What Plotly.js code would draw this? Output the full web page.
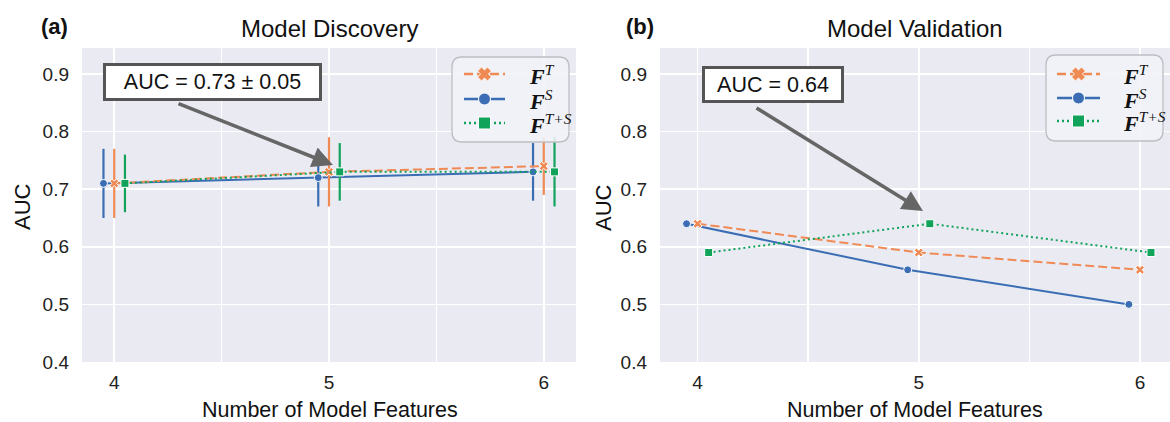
<!DOCTYPE html>
<html>
<head>
<meta charset="utf-8">
<script src="https://cdn.plot.ly/plotly-3.0.1.min.js"></script>
<style>html,body{margin:0;padding:0;background:#fff;}#chart{width:1170px;height:422px;}</style>
</head>
<body>
<div id="chart"></div>
<script>
// ---- data ----
const features = [4, 5, 6];
const seriesNames = ['<b><i>F</i></b><sup><i>T</i></sup>', '<b><i>F</i></b><sup><i>S</i></sup>', '<b><i>F</i></b><sup><i>T+S</i></sup>'];

const discFT = [0.71, 0.73, 0.74];
const discFTerr = [0.06, 0.06, 0.05];
const discFS = [0.71, 0.72, 0.73];
const discFSerr = [0.06, 0.05, 0.05];
const discFTS = [0.71, 0.73, 0.73];
const discFTSerr = [0.05, 0.05, 0.06];

const valFT = [0.64, 0.59, 0.56];
const valFS = [0.64, 0.56, 0.50];
const valFTS = [0.59, 0.64, 0.59];

const xTicks = [4, 5, 6];
const yTicks = [0.4, 0.5, 0.6, 0.7, 0.8, 0.9];

// ---- styling ----
const W = 1170, H = 422;
const px = v => v / W;
const py = v => 1 - v / H;
const colFT = '#f08a55', colFS = '#3a6db4', colFTS = '#12a35b';
const dodge = {FT: 0, FS: -0.05, FTS: 0.05};
const shift = (arr, d) => arr.map(v => v + d);
const dashFT = '9px,4px', dashFTS = '2px,3px';

function trace(name, x, y, err, color, dash, symbol, xa, ya) {
  const t = {
    type: 'scatter', mode: 'lines+markers', name: name,
    x: x, y: y, xaxis: xa, yaxis: ya, showlegend: false,
    line: {color: color, width: 2, dash: dash},
    marker: {color: color, symbol: symbol, size: 8, line: {color: '#ffffff', width: 1}},
    hoverinfo: 'x+y'
  };
  if (err) t.error_y = {type: 'data', array: err, visible: true, color: color, thickness: 2.2, width: 0};
  return t;
}

const data = [
  trace(seriesNames[1], shift(features, dodge.FS), discFS, discFSerr, colFS, 'solid', 'circle', 'x', 'y'),
  trace(seriesNames[0], shift(features, dodge.FT), discFT, discFTerr, colFT, dashFT, 'x', 'x', 'y'),
  trace(seriesNames[2], shift(features, dodge.FTS), discFTS, discFTSerr, colFTS, dashFTS, 'square', 'x', 'y'),
  trace(seriesNames[1], shift(features, dodge.FS), valFS, null, colFS, 'solid', 'circle', 'x2', 'y2'),
  trace(seriesNames[0], shift(features, dodge.FT), valFT, null, colFT, dashFT, 'x', 'x2', 'y2'),
  trace(seriesNames[2], shift(features, dodge.FTS), valFTS, null, colFTS, dashFTS, 'square', 'x2', 'y2')
];

const font = 'Liberation Sans, Arial, sans-serif';
const serif = 'Liberation Serif, Times New Roman, serif';
const bg = '#eaeaf2';

function xaxis(domain, range, anchor) {
  return {
    domain: domain, range: range, anchor: anchor,
    tickvals: xTicks, ticktext: xTicks.map(String),
    showgrid: true, gridcolor: '#ffffff', gridwidth: 1.6,
    minor: {dtick: 0.5, tick0: 0, showgrid: true, gridcolor: '#ffffff', gridwidth: 1.6},
    zeroline: false, showline: false, ticks: '',
    tickfont: {family: font, size: 19, color: '#222'}, ticklabelstandoff: 7, fixedrange: true
  };
}
function yaxis(anchor) {
  return {
    domain: [py(362), py(48)], range: [0.4, 0.945], anchor: anchor,
    tickvals: yTicks, ticktext: yTicks.map(v => v.toFixed(1)),
    showgrid: true, gridcolor: '#ffffff', gridwidth: 1.6,
    zeroline: false, showline: false, ticks: '',
    tickfont: {family: font, size: 19, color: '#222'}, ticklabelstandoff: 12, fixedrange: true
  };
}

// ---- shapes helpers (pixel -> paper) ----
function roundRect(x0, y0, x1, y1, r) {
  const X = v => px(v), Y = v => py(v);
  return 'M' + X(x0 + r) + ',' + Y(y0) +
    ' L' + X(x1 - r) + ',' + Y(y0) + ' Q' + X(x1) + ',' + Y(y0) + ' ' + X(x1) + ',' + Y(y0 + r) +
    ' L' + X(x1) + ',' + Y(y1 - r) + ' Q' + X(x1) + ',' + Y(y1) + ' ' + X(x1 - r) + ',' + Y(y1) +
    ' L' + X(x0 + r) + ',' + Y(y1) + ' Q' + X(x0) + ',' + Y(y1) + ' ' + X(x0) + ',' + Y(y1 - r) +
    ' L' + X(x0) + ',' + Y(y0 + r) + ' Q' + X(x0) + ',' + Y(y0) + ' ' + X(x0 + r) + ',' + Y(y0) + ' Z';
}
function xPath(cx, cy, r, w) {
  const pts = [[w, r], [w, w], [r, w], [r, -w], [w, -w], [w, -r], [-w, -r], [-w, -w], [-r, -w], [-r, w], [-w, w], [-w, r]];
  const c = Math.SQRT1_2;
  return pts.map((p, i) => {
    const x = (p[0] - p[1]) * c + cx, y = (p[0] + p[1]) * c + cy;
    return (i ? 'L' : 'M') + px(x) + ',' + py(y);
  }).join(' ') + ' Z';
}
function legendShapes(bx0, by0, bx1, by1, lx0, lx1, rows) {
  const s = [{type: 'path', xref: 'paper', yref: 'paper', path: roundRect(bx0, by0, bx1, by1, 10),
    fillcolor: 'rgba(241,242,247,0.88)', line: {color: '#bdbdc2', width: 1.3}, layer: 'above'}];
  const mx = (lx0 + lx1) / 2;
  const styles = [[colFT, dashFT, 'x'], [colFS, 'solid', 'circle'], [colFTS, dashFTS, 'square']];
  rows.forEach((ry, i) => {
    const [col, dash, sym] = styles[i];
    s.push({type: 'line', xref: 'paper', yref: 'paper', x0: px(lx0), x1: px(lx1), y0: py(ry), y1: py(ry),
      line: {color: col, width: 2.6, dash: dash}, layer: 'above'});
    const r = 6;
    if (sym === 'circle') s.push({type: 'circle', xref: 'paper', yref: 'paper', x0: px(mx - r), x1: px(mx + r), y0: py(ry + r), y1: py(ry - r),
      fillcolor: col, line: {color: '#ffffff', width: 1}, layer: 'above'});
    if (sym === 'square') s.push({type: 'rect', xref: 'paper', yref: 'paper', x0: px(mx - 6), x1: px(mx + 6), y0: py(ry + 6), y1: py(ry - 6),
      fillcolor: col, line: {color: '#ffffff', width: 1}, layer: 'above'});
    if (sym === 'x') s.push({type: 'path', xref: 'paper', yref: 'paper', path: xPath(mx, ry, 7, 2.8),
      fillcolor: col, line: {color: '#ffffff', width: 0.8}, layer: 'above'});
  });
  return s;
}
function legendTexts(tx, rows) {
  return rows.map((ry, i) => ({
    xref: 'paper', yref: 'paper', x: px(tx), y: py(ry + 1), xanchor: 'left', yanchor: 'middle',
    text: seriesNames[i], showarrow: false,
    font: {family: serif, size: 22, color: '#111'}
  }));
}

function boxAnn(text, cx, cy, w, h) {
  return {
    xref: 'paper', yref: 'paper', x: px(cx), y: py(cy), xanchor: 'center', yanchor: 'middle',
    text: text, showarrow: false, width: w, height: h, align: 'center', valign: 'middle',
    bgcolor: '#ffffff', bordercolor: '#555555', borderwidth: 3, borderpad: 1,
    font: {family: font, size: 21.5, color: '#111'}
  };
}
function arrowAnn(tipX, tipY, tailX, tailY) {
  return {
    xref: 'paper', yref: 'paper', x: px(tipX), y: py(tipY), text: '',
    showarrow: true, ax: tailX - tipX, ay: tailY - tipY,
    arrowhead: 2, arrowsize: 1.15, arrowwidth: 3.6, arrowcolor: '#666666', standoff: 0, startstandoff: 0
  };
}
function textAnn(text, cx, cy, size, angle, bold) {
  return {
    xref: 'paper', yref: 'paper', x: px(cx), y: py(cy), xanchor: 'center', yanchor: 'middle',
    text: bold ? '<b>' + text + '</b>' : text, showarrow: false, textangle: angle || 0,
    font: {family: font, size: size, color: '#111'}
  };
}

const rowsA = [74, 99, 123], rowsB = [74, 98, 121];

const layout = {
  width: W, height: H,
  margin: {l: 0, r: 0, t: 0, b: 0, pad: 0},
  paper_bgcolor: '#ffffff', plot_bgcolor: bg,
  showlegend: false,
  xaxis: xaxis([px(82), px(576)], [3.85, 6.15], 'y'),
  yaxis: yaxis('x'),
  xaxis2: xaxis([px(660), 1], [3.83, 6.136], 'y2'),
  yaxis2: yaxis('x2'),
  shapes: [].concat(
    legendShapes(452, 57, 569, 142, 464, 505, rowsA),
    legendShapes(1046, 55, 1163, 141, 1057, 1100, rowsB)
  ),
  annotations: [
    textAnn('Model Discovery', 329, 28, 24),
    textAnn('Model Validation', 915, 28, 24),
    textAnn('(a)', 54, 27, 22, 0, true),
    textAnn('(b)', 640, 27, 22, 0, true),
    textAnn('AUC', 22, 207, 22, -90),
    textAnn('AUC', 603, 207, 22, -90),
    textAnn('Number of Model Features', 330, 410, 21.5),
    textAnn('Number of Model Features', 915, 410, 21.5),
    arrowAnn(333, 165, 177, 103),
    arrowAnn(923, 211, 755, 107),
    boxAnn('AUC = 0.73 ± 0.05', 212.5, 82, 211, 30),
    boxAnn('AUC = 0.64', 772.7, 84.5, 134, 29)
  ].concat(legendTexts(527, rowsA), legendTexts(1121, rowsB))
};

Plotly.newPlot('chart', data, layout, {staticPlot: true, displayModeBar: false});
</script>
</body>
</html>
